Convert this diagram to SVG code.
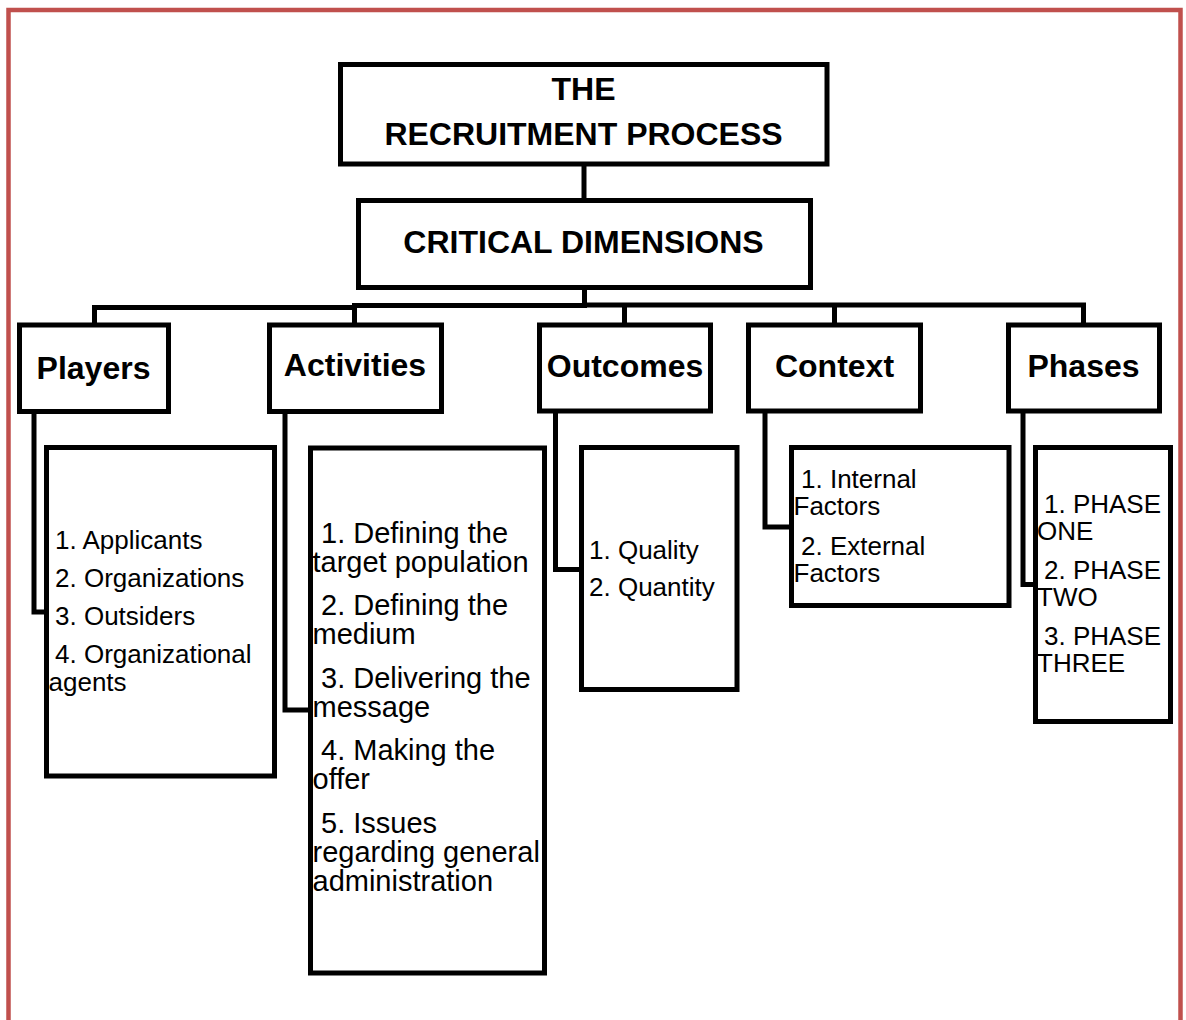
<svg xmlns="http://www.w3.org/2000/svg" width="1186" height="1020" viewBox="0 0 1186 1020">
  <style>
    .box { fill: #ffffff; stroke: #000000; stroke-width: 5; }
    .conn { fill: none; stroke: #000000; stroke-width: 5; }
    .hdr { font-family: "Liberation Sans", Arial, sans-serif; font-weight: bold; font-size: 32px; text-anchor: middle; fill: #000000; }
    .item { font-family: "Liberation Sans", Arial, sans-serif; font-size: 26px; fill: #000000; }
    .item-lg { font-family: "Liberation Sans", Arial, sans-serif; font-size: 29px; fill: #000000; }
  </style>

  <!-- page background and frame -->
  <rect x="0" y="0" width="1186" height="1020" fill="#ffffff"/>
  <rect x="8.5" y="10" width="1172" height="1040" fill="none" stroke="#c0504d" stroke-width="4.5"/>

  <!-- connectors -->
  <g id="connectors">
    <path class="conn" d="M584,166 V200"/>
    <path class="conn" d="M584.5,289 V307"/>
    <path class="conn" d="M94.5,325 V307.5 H356"/>
    <path class="conn" d="M354.5,325 V305.5 H587"/>
    <path class="conn" d="M582,305 H1083.5 V325"/>
    <path class="conn" d="M624.5,305 V325"/>
    <path class="conn" d="M834.5,305 V325"/>
    <path class="conn" d="M34,411 V612 H46.5"/>
    <path class="conn" d="M285,411 V710 H310.5"/>
    <path class="conn" d="M555.5,411 V569.5 H581.5"/>
    <path class="conn" d="M765,411 V527 H791.5"/>
    <path class="conn" d="M1023,411 V584.5 H1035.5"/>
  </g>

  <g id="recruitment-process">
    <rect class="box" x="340.5" y="64.5" width="486.5" height="99.5"/>
    <text class="hdr" x="583.5" y="100">THE</text>
    <text class="hdr" x="583.5" y="145">RECRUITMENT PROCESS</text>
  </g>

  <g id="critical-dimensions">
    <rect class="box" x="358.5" y="200.5" width="452" height="87"/>
    <text class="hdr" x="583.5" y="253">CRITICAL DIMENSIONS</text>
  </g>

  <g id="players">
    <rect class="box" x="19.5" y="325" width="149" height="86.5"/>
    <text class="hdr" x="93.5" y="379">Players</text>
  </g>

  <g id="activities">
    <rect class="box" x="269.5" y="325" width="172" height="86.5"/>
    <text class="hdr" x="355" y="376">Activities</text>
  </g>

  <g id="outcomes">
    <rect class="box" x="539.5" y="325" width="171" height="86"/>
    <text class="hdr" x="625" y="377">Outcomes</text>
  </g>

  <g id="context">
    <rect class="box" x="748.5" y="325" width="172" height="86"/>
    <text class="hdr" x="834.5" y="377">Context</text>
  </g>

  <g id="phases">
    <rect class="box" x="1008.5" y="325" width="151" height="86"/>
    <text class="hdr" x="1083.5" y="377">Phases</text>
  </g>

  <g id="players-list">
    <rect class="box" x="46.5" y="447.5" width="228" height="328.5"/>
    <text class="item" x="55" y="549">1. Applicants</text>
    <text class="item" x="55" y="587">2. Organizations</text>
    <text class="item" x="55" y="625">3. Outsiders</text>
    <text class="item" x="55" y="663">4. Organizational</text>
    <text class="item" x="48.5" y="691">agents</text>
  </g>

  <g id="activities-list">
    <rect class="box" x="310.5" y="448" width="234" height="525"/>
    <text class="item-lg" x="321" y="543">1. Defining the</text>
    <text class="item-lg" x="312.5" y="572">target population</text>
    <text class="item-lg" x="321" y="615">2. Defining the</text>
    <text class="item-lg" x="312.5" y="644">medium</text>
    <text class="item-lg" x="321" y="688">3. Delivering the</text>
    <text class="item-lg" x="312.5" y="717">message</text>
    <text class="item-lg" x="321" y="760">4. Making the</text>
    <text class="item-lg" x="312.5" y="789">offer</text>
    <text class="item-lg" x="321" y="833">5. Issues</text>
    <text class="item-lg" x="312.5" y="862">regarding general</text>
    <text class="item-lg" x="312.5" y="891">administration</text>
  </g>

  <g id="outcomes-list">
    <rect class="box" x="581.5" y="447.5" width="155.5" height="242"/>
    <text class="item" x="589" y="559">1. Quality</text>
    <text class="item" x="589" y="596">2. Quantity</text>
  </g>

  <g id="context-list">
    <rect class="box" x="791.5" y="447.5" width="217.5" height="158"/>
    <text class="item" x="801" y="488">1. Internal</text>
    <text class="item" x="793.5" y="515">Factors</text>
    <text class="item" x="801" y="555">2. External</text>
    <text class="item" x="793.5" y="582">Factors</text>
  </g>

  <g id="phases-list">
    <rect class="box" x="1035.5" y="447.5" width="135" height="274"/>
    <text class="item" x="1044" y="513">1. PHASE</text>
    <text class="item" x="1037" y="540">ONE</text>
    <text class="item" x="1044" y="579">2. PHASE</text>
    <text class="item" x="1037" y="606">TWO</text>
    <text class="item" x="1044" y="645">3. PHASE</text>
    <text class="item" x="1037" y="672">THREE</text>
  </g>
</svg>
